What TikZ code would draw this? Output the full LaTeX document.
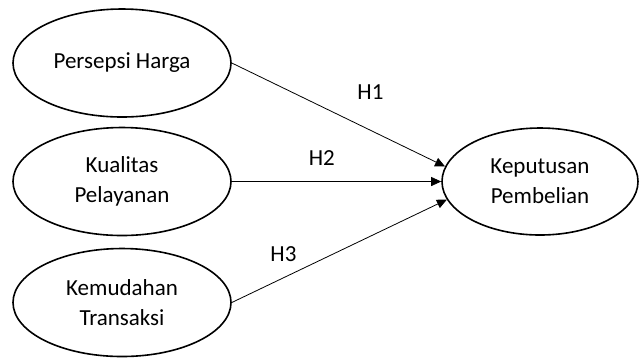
\documentclass[tikz,border=0pt]{standalone}
\usepackage{fontspec}
\setmainfont{Carlito}
\usetikzlibrary{shapes.geometric,arrows.meta}

\tikzset{
	var/.style={draw, ellipse, line width=0.8pt, inner sep=0pt,
		minimum width=109pt, minimum height=54pt, align=center,
		font=\fontsize{11.5}{15}\selectfont},
	hyp/.style={line width=0.4pt, -{Triangle[length=5pt, width=4.5pt]}},
	lbl/.style={font=\fontsize{11.5}{12}\selectfont, inner sep=0pt}
}

\begin{document}
\begin{tikzpicture}[x=0.5pt, y=-0.5pt]
		\useasboundingbox (0,0) rectangle (641,361);

		\node[var] (harga) at (122,63) {Persepsi Harga};
		\node[var] (layanan) at (122,181.5) {Kualitas\\Pelayanan};
		\node[var] (transaksi) at (122,302.5) {Kemudahan\\Transaksi};
		\node[var, minimum width=98pt, minimum height=53.5pt] (putusan) at (540,181.5) {Keputusan\\Pembelian};

		\draw[hyp] (harga.east) -- (putusan.171) node[lbl, pos=0.65, yshift=19pt] {H1};
		\draw[hyp] (layanan.east) -- (putusan.west) node[lbl, pos=0.43, yshift=11.5pt] {H2};
		\draw[hyp] (transaksi.east) -- (putusan.191) node[lbl, pos=0.24, yshift=12pt] {H3};
	\end{tikzpicture}
\end{document}
